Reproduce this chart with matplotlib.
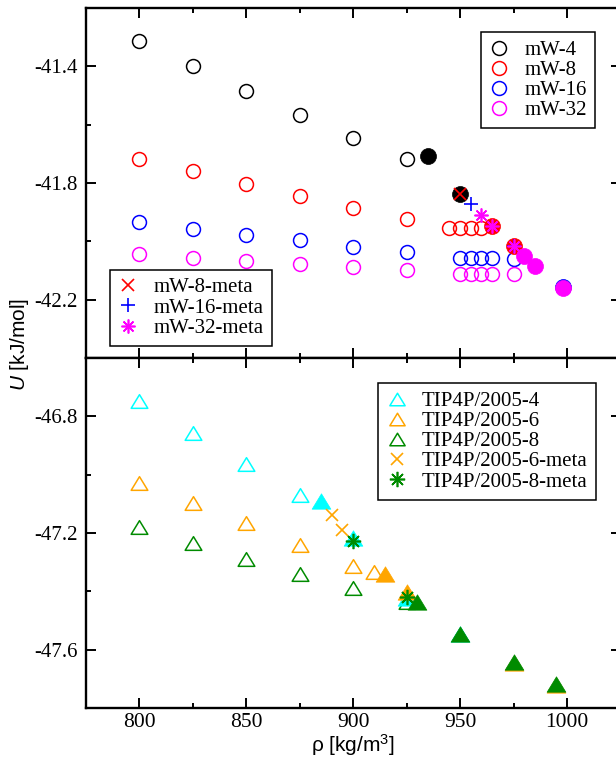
import matplotlib
matplotlib.use('Agg')
import matplotlib.pyplot as plt
from matplotlib.lines import Line2D
from matplotlib.path import Path
from matplotlib.ticker import MultipleLocator, FixedLocator

plt.rcParams['axes.unicode_minus'] = False
plt.rcParams['mathtext.fontset'] = 'custom'
plt.rcParams['mathtext.rm'] = 'Liberation Sans'
plt.rcParams['mathtext.it'] = 'Liberation Sans:italic'

# ---- mW model (top panel) ----
rho_mw4 = [800, 825, 850, 875, 900, 925]
u_mw4 = [-41.314, -41.400, -41.485, -41.568, -41.647, -41.719]
rho_mw4_f = [935, 950]
u_mw4_f = [-41.709, -41.836]

rho_mw8 = [800, 825, 850, 875, 900, 925, 945, 950, 955, 960]
u_mw8 = [-41.718, -41.760, -41.803, -41.845, -41.884, -41.922, -41.955, -41.955, -41.955, -41.955]
rho_mw8_f = [965, 975]
u_mw8_f = [-41.949, -42.015]

rho_mw16 = [800, 825, 850, 875, 900, 925, 950, 955, 960, 965, 975]
u_mw16 = [-41.933, -41.956, -41.977, -41.997, -42.018, -42.035, -42.057, -42.057, -42.057, -42.057, -42.060]
rho_mw16_f = [998]
u_mw16_f = [-42.155]

rho_mw32 = [800, 825, 850, 875, 900, 925, 950, 955, 960, 965, 975]
u_mw32 = [-42.045, -42.056, -42.066, -42.076, -42.087, -42.097, -42.112, -42.112, -42.112, -42.112, -42.112]
rho_mw32_f = [980, 985, 998]
u_mw32_f = [-42.049, -42.083, -42.160]

rho_mw8_meta = [950]
u_mw8_meta = [-41.836]
rho_mw16_meta = [955, 975]
u_mw16_meta = [-41.871, -42.015]
rho_mw32_meta = [960, 965, 975]
u_mw32_meta = [-41.909, -41.949, -42.015]

# ---- TIP4P/2005 (bottom panel) ----
rho_t4 = [800, 825, 850, 875]
u_t4 = [-46.746, -46.856, -46.963, -47.069]
rho_t4_f = [885, 900, 925, 950]
u_t4_f = [-47.090, -47.218, -47.424, -47.546]

rho_t6 = [800, 825, 850, 875, 900, 910]
u_t6 = [-47.028, -47.097, -47.167, -47.240, -47.312, -47.332]
rho_t6_f = [915, 925, 975, 995]
u_t6_f = [-47.339, -47.403, -47.647, -47.721]

rho_t8 = [800, 825, 850, 875, 900, 925]
u_t8 = [-47.178, -47.233, -47.289, -47.341, -47.389, -47.438]
rho_t8_f = [930, 950, 975, 995]
u_t8_f = [-47.435, -47.545, -47.643, -47.717]

rho_t6_meta = [890, 895]
u_t6_meta = [-47.138, -47.190]
rho_t8_meta = [900, 925]
u_t8_meta = [-47.226, -47.419]

ORANGE = '#ffa500'
GREEN = '#008b00'
tri = Path([(-1, -0.82), (1, -0.82), (0, 0.82), (-1, -0.82)], closed=True)
star = (8, 2, 0)

fig = plt.figure(figsize=(6.16, 7.62), dpi=100)
ax1 = fig.add_axes([85.5 / 616, 1 - 358 / 762, 535 / 616, 350 / 762])
ax2 = fig.add_axes([85.5 / 616, 1 - 708 / 762, 535 / 616, 350 / 762])

serif = 'Liberation Serif'

for ax in (ax1, ax2):
    ax.set_xlim(775, 1025)
    ax.xaxis.set_major_locator(MultipleLocator(50))
    ax.xaxis.set_minor_locator(MultipleLocator(25))
    ax.tick_params(which='both', direction='in', top=True, right=True, width=1.4)
    ax.tick_params(which='major', length=7.2)
    ax.tick_params(which='minor', length=3.6)
    ax.tick_params(axis='y', which='major', pad=5.5)
    for sp in ax.spines.values():
        sp.set_linewidth(1.7)

ax1.set_ylim(-42.4, -41.2)
ax1.yaxis.set_major_locator(FixedLocator([-42.2, -41.8, -41.4]))
ax1.yaxis.set_minor_locator(FixedLocator([-42.0, -41.6]))
ax1.tick_params(labelbottom=False)

ax2.set_ylim(-47.8, -46.6)
ax2.yaxis.set_major_locator(FixedLocator([-47.6, -47.2, -46.8]))
ax2.yaxis.set_minor_locator(FixedLocator([-47.4, -47.0]))

for ax in (ax1, ax2):
    ax.set_yticklabels(['%.1f' % v for v in ax.get_yticks()], fontfamily=serif, fontsize=15)
ax2.set_xticks([800, 850, 900, 950, 1000])
ax2.set_xticklabels(['800', '850', '900', '950', '1000'], fontfamily=serif, fontsize=15.5)

ms_o = 10
ms_f = 11.5
mew = 1.1

# open circles
for r, u, c in [(rho_mw4, u_mw4, 'black'), (rho_mw8, u_mw8, 'red'),
                (rho_mw16, u_mw16, 'blue'), (rho_mw32, u_mw32, 'magenta')]:
    ax1.plot(r, u, ls='none', marker='o', ms=ms_o, mfc='none', mec=c, mew=mew)
# filled circles
for r, u, c in [(rho_mw4_f, u_mw4_f, 'black'), (rho_mw8_f, u_mw8_f, 'red'),
                (rho_mw16_f, u_mw16_f, 'blue'), (rho_mw32_f, u_mw32_f, 'magenta')]:
    ax1.plot(r, u, ls='none', marker='o', ms=ms_f, mfc=c, mec=c, mew=0.5)
# metastable points
ax1.plot(rho_mw8_meta, u_mw8_meta, ls='none', marker='x', ms=8, mec='red', mew=1.2)
ax1.plot(rho_mw16_meta, u_mw16_meta, ls='none', marker='+', ms=10, mec='blue', mew=1.2)
ax1.plot(rho_mw32_meta, u_mw32_meta, ls='none', marker=star, ms=10, mec='magenta', mew=1.2)

ms_t = 12
ms_tf = 13.5
# open triangles
for r, u, c in [(rho_t4, u_t4, 'cyan'), (rho_t6, u_t6, ORANGE), (rho_t8, u_t8, GREEN)]:
    ax2.plot(r, u, ls='none', marker=tri, ms=ms_t, mfc='none', mec=c, mew=mew)
# filled triangles
for r, u, c in [(rho_t4_f, u_t4_f, 'cyan'), (rho_t6_f, u_t6_f, ORANGE), (rho_t8_f, u_t8_f, GREEN)]:
    ax2.plot(r, u, ls='none', marker=tri, ms=ms_tf, mfc=c, mec=c, mew=0.5)
ax2.plot(rho_t6_meta, u_t6_meta, ls='none', marker='x', ms=8, mec=ORANGE, mew=1.2)
ax2.plot(rho_t8_meta, u_t8_meta, ls='none', marker=star, ms=11, mec=GREEN, mew=1.2)

leg_kw = dict(loc='upper left', bbox_transform=fig.transFigure, borderaxespad=0,
              prop={'family': serif, 'size': 15}, frameon=True, fancybox=False,
              framealpha=1, edgecolor='black', handlelength=1.0, handletextpad=0.72,
              borderpad=0.38, labelspacing=0.03)


def handle(marker, color, ms, filled=False, mew=1.1):
    return Line2D([], [], ls='none', marker=marker, ms=ms,
                  mfc=color if filled else 'none', mec=color, mew=mew)


h_open = [handle('o', c, ms_o) for c in ['black', 'red', 'blue', 'magenta']]
leg1 = ax1.legend(h_open, ['mW-4', 'mW-8', 'mW-16', 'mW-32'],
                  bbox_to_anchor=(481 / 616, 1 - 32.3 / 762), **leg_kw)
leg1.get_frame().set_linewidth(1.1)
ax1.add_artist(leg1)

h_meta = [handle('x', 'red', 8, mew=1.2), handle('+', 'blue', 10, mew=1.2),
          handle(star, 'magenta', 10, mew=1.2)]
leg2 = ax1.legend(h_meta, ['mW-8-meta', 'mW-16-meta', 'mW-32-meta'],
                  bbox_to_anchor=(110 / 616, 1 - 270 / 762), **leg_kw)
leg2.get_frame().set_linewidth(1.1)

h_tip = [handle(tri, 'cyan', 11), handle(tri, ORANGE, 11), handle(tri, GREEN, 11),
         handle('x', ORANGE, 8, mew=1.2), handle(star, GREEN, 11, mew=1.2)]
leg3 = ax2.legend(h_tip, ['TIP4P/2005-4', 'TIP4P/2005-6', 'TIP4P/2005-8',
                          'TIP4P/2005-6-meta', 'TIP4P/2005-8-meta'],
                  bbox_to_anchor=(378.3 / 616, 1 - 383.3 / 762), **leg_kw)
leg3.get_frame().set_linewidth(1.1)

fig.text(20 / 616, 1 - 344 / 762, r'$U$ [kJ/mol]', rotation=90, ha='center', va='center',
         family='Liberation Sans', fontsize=15)
fig.text(353 / 616, 1 - 745 / 762, r'ρ [kg/m$^3$]', ha='center', va='center',
         family='Liberation Sans', fontsize=15)

fig.savefig('out.png', dpi=100)
